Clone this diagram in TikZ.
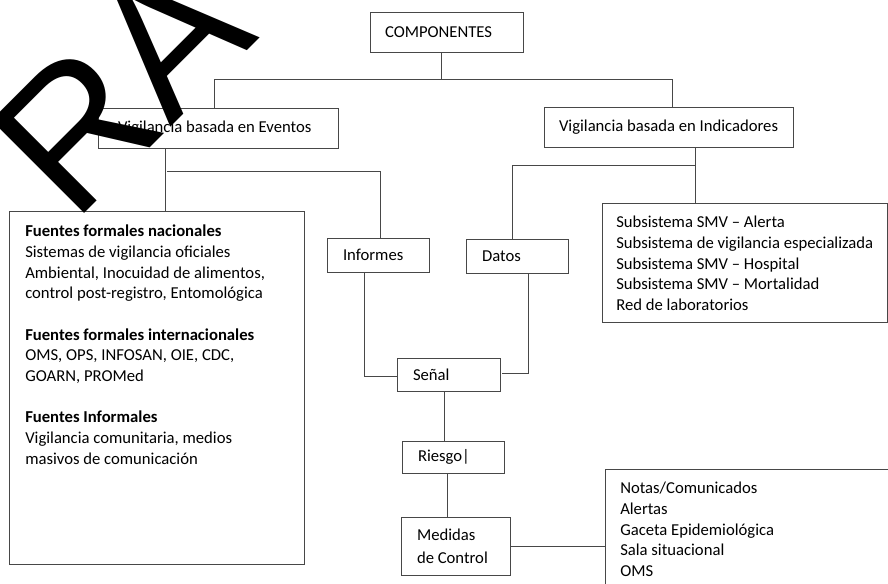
\documentclass[tikz,border=0pt]{standalone}
\usepackage{fontspec}
\setmainfont{Carlito}
\newfontfamily\wmfamily{Liberation Sans}
\begin{document}
\begin{tikzpicture}[x=0.75pt,y=-0.75pt,
  linec/.style={draw=black!72},
  box/.style={linec, line width=0.75pt, inner ysep=0pt, align=flush left,
    font=\fontsize{12.5pt}{15.5pt}\selectfont},
  frame/.style={linec, line width=0.75pt, inner sep=0pt, anchor=north west},
  txt/.style={inner sep=0pt, anchor=north west, align=flush left,
    font=\fontsize{12.5pt}{15.5pt}\selectfont},
  conn/.style={linec, line width=0.75pt}]
\useasboundingbox (0,0) rectangle (888,583);

% boxes
\node[box, text width=92.25pt, inner xsep=11.25pt, minimum height=30pt] (comp) at (446.5,32) {COMPONENTES};
\node[box, text width=150pt, inner xsep=15pt, minimum height=30pt] (ev) at (218,128) {Vigilancia basada en Eventos};
\node[box, text width=165pt, inner xsep=11pt, minimum height=30pt] (ind) at (669,127) {Vigilancia basada en Indicadores};
\node[box, text width=52.5pt, inner xsep=12pt, minimum height=25.5pt] (inf) at (378,255) {Informes};
\node[box, text width=52.5pt, inner xsep=12pt, minimum height=25.5pt] (dat) at (517,256) {Datos};
\node[box, text width=53.25pt, inner xsep=12pt, minimum height=24.75pt] (sen) at (448.5,374.5) {Señal};
\node[box, text width=52.5pt, inner xsep=12pt, minimum height=24pt] (rie) at (453,457) {Riesgo|};
\node[box, text width=57.75pt, inner xsep=12pt, minimum height=43.5pt,
  font=\fontsize{12.5pt}{17.5pt}\selectfont] (med) at (455.5,546) {Medidas\\de Control};

\node[frame, minimum width=221.25pt, minimum height=264.75pt] (fu) at (9,211) {};
\node[txt] (fut) at (25,225) {\textbf{Fuentes formales nacionales}\\
Sistemas de vigilancia oficiales\\
Ambiental, Inocuidad de alimentos,\\
control post-registro, Entomológica\\[15.5pt]
\textbf{Fuentes formales internacionales}\\
OMS, OPS, INFOSAN, OIE, CDC,\\
GOARN, PROMed\\[15.5pt]
\textbf{Fuentes Informales}\\
Vigilancia comunitaria, medios\\
masivos de comunicación};

\node[frame, minimum width=213.75pt, minimum height=89.25pt] (sub) at (602,203) {};
\node[txt] (subt) at (616,216) {Subsistema SMV – Alerta\\
Subsistema de vigilancia especializada\\
Subsistema SMV – Hospital\\
Subsistema SMV – Mortalidad\\
Red de laboratorios};

\node[frame, minimum width=225pt, minimum height=97.5pt] (not) at (605,469) {};
\node[txt] (nott) at (620,482) {Notas/Comunicados\\
Alertas\\
Gaceta Epidemiológica\\
Sala situacional\\
OMS};

% connectors
\coordinate (j0) at (441,79);
\coordinate (jl) at (214,79);
\coordinate (jr) at (672,79);
\draw[conn] (j0 |- comp.south) -- (j0);
\draw[conn] (jl |- ev.north) -- (jl) -- (jr) -- (jr |- ind.north);

\coordinate (je) at (165,0);
\draw[conn] (je |- ev.south) -- (je |- fu.north);

\coordinate (ei) at (167,171);
\coordinate (xi) at (380,0);
\draw[conn] (ei) -| (xi |- inf.north);

\coordinate (xs) at (695,0);
\draw[conn] (xs |- ind.south) -- (xs |- sub.north);
\coordinate (jd) at (695,165);
\coordinate (xd) at (512,0);
\draw[conn] (jd) -| (xd |- dat.north);

\coordinate (xi2) at (364,376);
\draw[conn] (xi2 |- inf.south) -- (xi2) -- (xi2 -| sen.west);

\coordinate (xd2) at (528,373);
\coordinate (sd) at (502,373);
\draw[conn] (xd2 |- dat.south) -- (xd2) -- (sd);

\coordinate (xr) at (444,0);
\draw[conn] (xr |- sen.south) -- (xr |- rie.north);
\coordinate (xm) at (447,0);
\draw[conn] (xm |- rie.south) -- (xm |- med.north);

\draw[conn] (med.east) -- (not.west |- med.east);

% watermark
\node[rotate=45, anchor=base west, inner sep=0pt, text=black,
  font=\wmfamily\fontsize{143pt}{143pt}\selectfont] (wm) at (73,225) {RA};
\end{tikzpicture}
\end{document}
